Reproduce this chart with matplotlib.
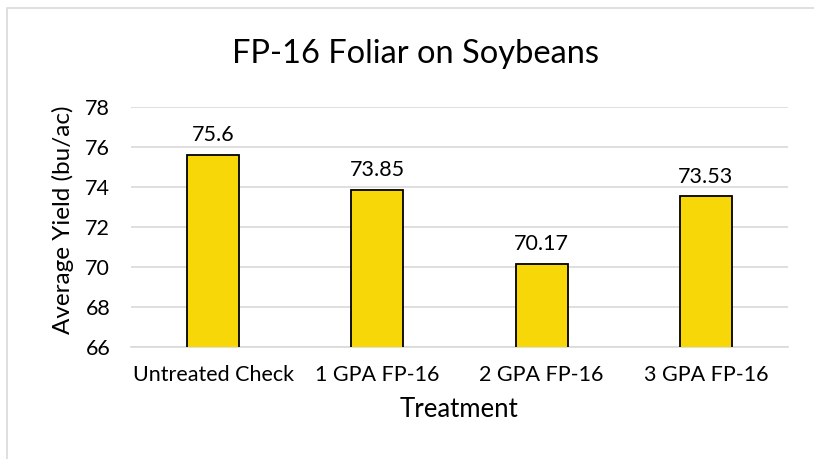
import matplotlib.pyplot as plt
from matplotlib.patches import Rectangle

plt.rcParams['font.family'] = ['Lato', 'DejaVu Sans']

# data
treatments = ['Untreated Check', '1 GPA FP-16', '2 GPA FP-16', '3 GPA FP-16']
yields = [75.6, 73.85, 70.17, 73.53]
labels = ['75.6', '73.85', '70.17', '73.53']

fig = plt.figure(figsize=(8.14, 4.59), dpi=100)
ax = fig.add_axes([131/814, 1-347/459, (788-131)/814, 240/459])

# outer chart border (cut off at right and bottom)
fig.patches.append(Rectangle((7/814, -0.1), 1.2, (459-8)/459 + 0.1,
                             transform=fig.transFigure, fill=False,
                             edgecolor='#d9d9d9', linewidth=1.2))

x = range(len(treatments))
bars = ax.bar(x, yields, width=0.317, color='#F7D708', edgecolor='black',
              linewidth=1.3, zorder=3)
for b, lab in zip(bars, labels):
    ax.annotate(lab, (b.get_x() + b.get_width()/2, b.get_height()),
                xytext=(0, 7), textcoords='offset points',
                ha='center', va='bottom', fontsize=15.5)

ax.set_ylim(66, 78)
ax.set_yticks(range(66, 79, 2))
ax.set_xlim(-0.5, 3.5)
ax.set_xticks(list(x))
ax.set_xticklabels(treatments)
ax.tick_params(length=0, labelsize=15.5)
ax.tick_params(axis='x', pad=13)
ax.tick_params(axis='y', pad=15)
ax.grid(axis='y', color='#d9d9d9', linewidth=1.2, zorder=0)
for s in ['top', 'right', 'left']:
    ax.spines[s].set_visible(False)
ax.spines['bottom'].set_color('#d9d9d9')
ax.spines['bottom'].set_linewidth(1.2)

ax.set_xlabel('Treatment', fontsize=18.5, va='center')
ax.xaxis.set_label_coords(0.5, (347-409)/240)
ax.set_ylabel('Average Yield (bu/ac)', fontsize=17.5, va='center')
ax.yaxis.set_label_coords((63-131)/657, 0.5 + (347-220-120)/240)
fig.text(416/814, 1-54/459, 'FP-16 Foliar on Soybeans', ha='center', va='center',
         fontsize=23.5)

fig.savefig('out.png', dpi=100)
